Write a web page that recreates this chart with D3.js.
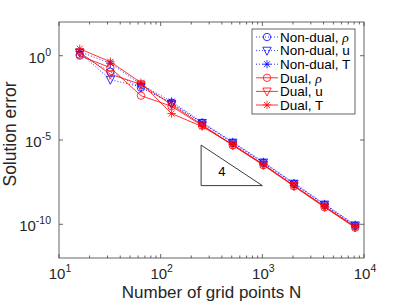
<!DOCTYPE html>
<html>
<head>
<meta charset="utf-8">
<script src="https://cdn.jsdelivr.net/npm/d3@7"></script>
<style>
  body { margin: 0; background: #fff; }
  svg { display: block; font-family: "Liberation Sans", Arial, Helvetica, sans-serif; }
</style>
</head>
<body>
<div id="chart"></div>
<script>
// grid sizes and solution errors
const gridPoints = [16, 32, 64, 128, 256, 512, 1024, 2048, 4096, 8192];
const nonDualRho = [1.15, 0.112, 0.0126, 1.66e-3, 1.0e-4, 6.6e-6, 4.4e-7, 2.45e-8, 1.4e-9, 8.1e-11];
const nonDualU   = [1.51, 0.038, 0.0141, 1.45e-3, 1.05e-4, 7.1e-6, 4.7e-7, 2.6e-8, 1.5e-9, 8.7e-11];
const nonDualT   = [1.74, 0.355, 0.02, 1.9e-3, 1.12e-4, 7.6e-6, 5.0e-7, 2.8e-8, 1.6e-9, 9.3e-11];
const dualRho    = [1.0, 0.195, 0.00427, 1.0e-3, 7.1e-5, 4.8e-6, 3.2e-7, 1.8e-8, 1.02e-9, 6.3e-11];
const dualU      = [1.58, 0.0794, 0.02, 1.26e-3, 7.9e-5, 5.0e-6, 3.4e-7, 1.9e-8, 1.1e-9, 6.8e-11];
const dualT      = [2.57, 0.437, 0.0251, 3.7e-4, 6.3e-5, 5.4e-6, 3.6e-7, 2.0e-8, 1.17e-9, 7.2e-11];

const seriesNames = [["Non-dual, ", "\u03c1"], ["Non-dual, u", ""], ["Non-dual, T", ""],
                     ["Dual, ", "\u03c1"], ["Dual, u", ""], ["Dual, T", ""]];
const seriesValues = [nonDualRho, nonDualU, nonDualT, dualRho, dualU, dualT];
const seriesMarkers = ["circle", "triangle", "star", "circle", "triangle", "star"];
const seriesKinds = ["nondual", "nondual", "nondual", "dual", "dual", "dual"];

const xTicks = [10, 100, 1000, 10000];
const xTickExp = ["1", "2", "3", "4"];
const yTicks = [1, 1e-5, 1e-10];
const yTickExp = ["0", "-5", "-10"];

// slope triangle: corners and label
const slopeX = [250, 1000];
const slopeY = [5.0e-6, 1.97e-8];
const slopeLabel = "4";
const slopeLabelPos = [400, 1.4e-7];

class ErrorPlot {
  constructor(config) {
    this.config = config;
    this.svg = null;
    this.margins = null;
    this.createSvg();
    this.createMargins();
    this.createScales();
  }

  createSvg() {
    this.svg = d3.select(this.config.div)
      .append("svg")
      .attr("width", 402)
      .attr("height", 302);
  }

  createMargins() {
    this.margins = this.svg.append("g")
      .attr("transform", `translate(${this.config.left},${this.config.top})`);
  }

  createScales() {
    this.xScale = d3.scaleLog().domain([10, 10000]).range([0, this.config.width]);
    this.yScale = d3.scaleLog().domain([1e-12, 1e2]).range([this.config.height, 0]);
  }

  marker(g, type, x, y, color) {
    if (type === "circle") {
      g.append("circle").attr("cx", x).attr("cy", y).attr("r", 3.7)
        .attr("fill", "none").attr("stroke", color).attr("stroke-width", 0.8);
    } else if (type === "triangle") {
      const s = 4.2;
      g.append("path")
        .attr("d", `M${x - s},${y - s * 0.8}L${x + s},${y - s * 0.8}L${x},${y + s * 1.1}Z`)
        .attr("fill", "none").attr("stroke", color).attr("stroke-width", 0.8);
    } else {
      const s = 4.2, d = 3;
      g.append("path")
        .attr("d", `M${x - s},${y}L${x + s},${y}M${x},${y - s}L${x},${y + s}M${x - d},${y - d}L${x + d},${y + d}M${x - d},${y + d}L${x + d},${y - d}`)
        .attr("fill", "none").attr("stroke", color).attr("stroke-width", 0.8);
    }
  }

  style(kind) {
    return kind === "dual"
      ? { color: "#ff0000", dash: null }
      : { color: "#0000ff", dash: "1,2" };
  }

  createAxis() {
    const w = this.config.width, h = this.config.height;
    const axisColor = "#404040";
    const ax = this.margins.append("g");

    const minor = [];
    for (let e = 1; e < 4; e++) for (let k = 2; k < 10; k++) minor.push(k * Math.pow(10, e));

    const xAll = xTicks.map(v => ({ v, len: 4 })).concat(minor.map(v => ({ v, len: 2.5 })));
    xAll.forEach(t => {
      const x = this.xScale(t.v);
      ax.append("line").attr("x1", x).attr("x2", x).attr("y1", h).attr("y2", h - t.len)
        .attr("stroke", axisColor).attr("stroke-width", 0.8);
      ax.append("line").attr("x1", x).attr("x2", x).attr("y1", 0).attr("y2", t.len)
        .attr("stroke", axisColor).attr("stroke-width", 0.8);
    });
    yTicks.forEach(v => {
      const y = this.yScale(v);
      ax.append("line").attr("x1", 0).attr("x2", 4).attr("y1", y).attr("y2", y)
        .attr("stroke", axisColor).attr("stroke-width", 0.8);
      ax.append("line").attr("x1", w).attr("x2", w - 4).attr("y1", y).attr("y2", y)
        .attr("stroke", axisColor).attr("stroke-width", 0.8);
    });

    ax.append("rect").attr("width", w).attr("height", h)
      .attr("fill", "none").attr("stroke", axisColor).attr("stroke-width", 0.8);

    xTicks.forEach((v, i) => {
      const t = ax.append("text").attr("x", this.xScale(v) + 1).attr("y", h + 21)
        .attr("text-anchor", "middle").attr("fill", "#262626").style("font-size", "15px");
      t.append("tspan").text("10");
      t.append("tspan").attr("dy", -7).style("font-size", "10.5px").text(xTickExp[i]);
    });

    yTicks.forEach((v, i) => {
      const t = ax.append("text").attr("x", -8).attr("y", this.yScale(v) + 7)
        .attr("text-anchor", "end").attr("fill", "#262626").style("font-size", "15px");
      t.append("tspan").text("10");
      t.append("tspan").attr("dy", -7).style("font-size", "10.5px").text(yTickExp[i]);
    });

    this.svg.append("text")
      .attr("x", this.config.left + w / 2).attr("y", 298)
      .attr("text-anchor", "middle").attr("fill", "#262626").style("font-size", "17px")
      .text("Number of grid points N");

    this.svg.append("text")
      .attr("transform", `translate(16,${this.config.top + h / 2 - 6})rotate(-90)`)
      .attr("text-anchor", "middle").attr("fill", "#262626").style("font-size", "17.5px")
      .text("Solution error");
  }

  renderSlope() {
    const g = this.margins.append("g");
    const x0 = this.xScale(slopeX[0]), x1 = this.xScale(slopeX[1]);
    const y0 = this.yScale(slopeY[0]), y1 = this.yScale(slopeY[1]);
    g.append("path").attr("d", `M${x0},${y0}L${x0},${y1}L${x1},${y1}Z`)
      .attr("fill", "none").attr("stroke", "#262626").attr("stroke-width", 0.9);
    g.append("text").attr("x", this.xScale(slopeLabelPos[0])).attr("y", this.yScale(slopeLabelPos[1]) + 5)
      .attr("text-anchor", "middle").style("font-size", "13px").attr("fill", "#000").text(slopeLabel);
  }

  render() {
    const line = d3.line().x(d => this.xScale(d[0])).y(d => this.yScale(d[1]));
    seriesValues.forEach((vals, i) => {
      const st = this.style(seriesKinds[i]);
      const pts = gridPoints.map((n, j) => [n, vals[j]]);
      const g = this.margins.append("g");
      g.append("path").attr("d", line(pts)).attr("fill", "none")
        .attr("stroke", st.color).attr("stroke-width", 0.8)
        .attr("stroke-dasharray", st.dash);
      pts.forEach(p => this.marker(g, seriesMarkers[i], this.xScale(p[0]), this.yScale(p[1]), st.color));
    });
  }

  renderLegend() {
    const lx = 252 - this.config.left, ly = 29 - this.config.top;
    const g = this.margins.append("g").attr("transform", `translate(${lx},${ly})`);
    g.append("rect").attr("width", 103).attr("height", 85)
      .attr("fill", "#fff").attr("stroke", "#404040").attr("stroke-width", 0.8);
    seriesNames.forEach((name, i) => {
      const st = this.style(seriesKinds[i]);
      const y = 8 + i * 13.6;
      g.append("line").attr("x1", 4).attr("x2", 26).attr("y1", y).attr("y2", y)
        .attr("stroke", st.color).attr("stroke-width", 0.8).attr("stroke-dasharray", st.dash);
      this.marker(g, seriesMarkers[i], 15, y, st.color);
      const t = g.append("text").attr("x", 28).attr("y", y + 4.8)
        .style("font-size", "13.5px").attr("fill", "#000");
      t.append("tspan").text(name[0]);
      if (name[1]) t.append("tspan").style("font-family", "'Liberation Serif', 'DejaVu Serif', serif")
        .style("font-style", "italic").text(name[1]);
    });
  }
}

function main() {
  const c = { div: "#chart", width: 305, height: 236, top: 22, left: 59 };
  const app = new ErrorPlot(c);
  app.createAxis();
  app.renderSlope();
  app.render();
  app.renderLegend();
}

main();
</script>
</body>
</html>
